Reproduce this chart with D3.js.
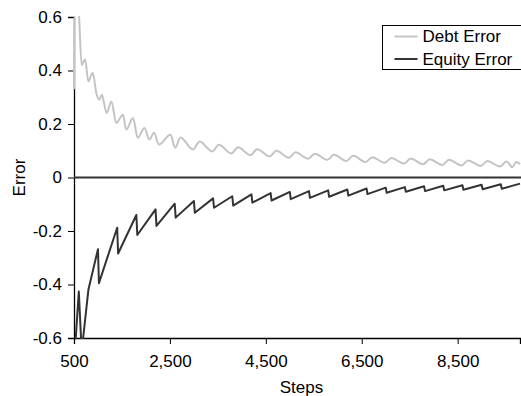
<!DOCTYPE html>
<html>
<head>
<meta charset="utf-8">
<script src="https://cdn.jsdelivr.net/npm/d3@7"></script>
<style>
  body { margin: 0; background: #fff; }
  svg text { font-family: Arial, "Liberation Sans", sans-serif; fill: #000; }
</style>
</head>
<body>
<div id="chart"></div>
<script>
// series values (step, error)
const debtSteps = [500, 510, 583, 660, 730, 800, 890, 970, 1030, 1080, 1180, 1280, 1380, 1520, 1590, 1730, 1830, 1970, 2070, 2170, 2270, 2510, 2610,
  2720, 2980, 3120, 3380, 3520, 3780, 3920, 4180, 4320, 4580, 4720, 4980, 5120, 5380, 5520, 5780, 5920, 6180, 6320, 6580, 6720, 6980, 7120,
  7380, 7520, 7780, 7920, 8180, 8320, 8580, 8720, 8980, 9120, 9380, 9520, 9640, 9720, 9800];
const debtValues = [0.33, 0.66, 0.66, 0.42, 0.442, 0.359, 0.392, 0.312, 0.291, 0.309, 0.241, 0.284, 0.204, 0.235, 0.179, 0.222, 0.148, 0.185, 0.142, 0.167, 0.123, 0.160, 0.111,
  0.150, 0.105, 0.135, 0.097, 0.122, 0.090, 0.113, 0.084, 0.106, 0.079, 0.100, 0.074, 0.094, 0.070, 0.089, 0.066, 0.085, 0.062, 0.081, 0.058, 0.076, 0.055, 0.073,
  0.052, 0.071, 0.050, 0.068, 0.047, 0.066, 0.045, 0.064, 0.043, 0.062, 0.041, 0.060, 0.038, 0.058, 0.050];

const equitySteps = [500, 600, 660, 800, 1000, 1020, 1400, 1420, 1800, 1820, 2200, 2220, 2600, 2620, 3000, 3020, 3400, 3420, 3800, 3820,
  4200, 4220, 4600, 4620, 5000, 5020, 5400, 5420, 5800, 5820, 6200, 6220, 6600, 6620, 7000, 7020, 7400, 7420, 7800, 7820,
  8200, 8220, 8600, 8620, 9000, 9020, 9400, 9420, 9800];
const equityValues = [-0.70, -0.426, -0.65, -0.42, -0.268, -0.395, -0.188, -0.284, -0.140, -0.215, -0.119, -0.181, -0.098, -0.150, -0.088, -0.132, -0.078, -0.113, -0.070, -0.105,
  -0.063, -0.094, -0.058, -0.086, -0.054, -0.081, -0.051, -0.076, -0.048, -0.072, -0.045, -0.068, -0.041, -0.062, -0.038, -0.057, -0.036, -0.053, -0.033, -0.051,
  -0.031, -0.048, -0.029, -0.046, -0.027, -0.044, -0.025, -0.042, -0.023];

const xTicks = [500, 2500, 4500, 6500, 8500];
const yTicks = [-0.6, -0.4, -0.2, 0, 0.2, 0.4, 0.6];
const seriesNames = ["Debt Error", "Equity Error"];
const seriesColors = ["#c4c4c4", "#333333"];

const W = 521, H = 396;
const margin = { top: 17, right: 0, bottom: 58, left: 74 };
const width = W - margin.left - margin.right;
const height = H - margin.top - margin.bottom;

const svg = d3.select("#chart").append("svg")
  .attr("width", W)
  .attr("height", H);

const g = svg.append("g")
  .attr("transform", `translate(${margin.left},${margin.top})`);

const x = d3.scaleLinear().domain([500, 9800]).range([0, width - 1]);
const y = d3.scaleLinear().domain([-0.6, 0.6]).range([height, 0]);

// Axes
const xAxis = g.append("g")
  .attr("transform", `translate(0,${height})`)
  .call(d3.axisBottom(x).tickValues(xTicks).tickFormat(d3.format(",")).tickSizeOuter(0).tickSize(6).tickPadding(11));

const yAxis = g.append("g")
  .call(d3.axisLeft(y).tickValues(yTicks)
    .tickFormat(d => d === 0 ? "0" : d3.format(".1f")(d).replace("\u2212", "-"))
    .tickSizeOuter(0).tickSize(6).tickPadding(6));

[xAxis, yAxis].forEach(a => {
  a.select(".domain").attr("stroke", "#000").attr("stroke-width", 1.3);
  a.selectAll(".tick line").attr("stroke", "#000");
  a.selectAll("text").style("font-size", "17px").attr("fill", "#000");
});

// zero line
g.append("line")
  .attr("x1", 0).attr("x2", width)
  .attr("y1", y(0)).attr("y2", y(0))
  .attr("stroke", "#333")
  .attr("stroke-width", 1.8);

// Axis titles
g.append("text")
  .attr("x", width / 2 + 4)
  .attr("y", height + 55)
  .attr("text-anchor", "middle")
  .style("font-size", "17px")
  .text("Steps");

g.append("text")
  .attr("transform", `translate(${-49},${y(0)}) rotate(-90)`)
  .attr("text-anchor", "middle")
  .style("font-size", "17px")
  .text("Error");

// Lines
g.append("clipPath").attr("id", "plot-clip")
  .append("rect")
  .attr("x", -2).attr("y", -1)
  .attr("width", width + 4).attr("height", height + 2);

const debtLine = d3.line()
  .x(d => x(d[0]))
  .y(d => y(d[1]))
  .curve(d3.curveMonotoneX);

const equityLine = d3.line()
  .x(d => x(d[0]))
  .y(d => y(d[1]));

const debtData = debtSteps.map((s, i) => [s, debtValues[i]]);
const equityData = equitySteps.map((s, i) => [s, equityValues[i]]);

const lines = g.append("g").attr("clip-path", "url(#plot-clip)");

lines.append("path")
  .datum(debtData)
  .attr("fill", "none")
  .attr("stroke", seriesColors[0])
  .attr("stroke-width", 2)
  .attr("stroke-linejoin", "round")
  .attr("d", debtLine);

lines.append("path")
  .datum(equityData)
  .attr("fill", "none")
  .attr("stroke", seriesColors[1])
  .attr("stroke-width", 2)
  .attr("stroke-linejoin", "round")
  .attr("d", equityLine);

// Legend
const legend = svg.append("g").attr("transform", "translate(382.5,25.5)");
legend.append("rect")
  .attr("width", 140).attr("height", 44)
  .attr("fill", "#fff")
  .attr("stroke", "#000")
  .attr("stroke-width", 1);

seriesNames.forEach((name, i) => {
  const row = legend.append("g").attr("transform", `translate(0,${11 + i * 22.5})`);
  row.append("line")
    .attr("x1", 12).attr("x2", 35)
    .attr("stroke", seriesColors[i])
    .attr("stroke-width", 2);
  row.append("text")
    .attr("x", 40)
    .attr("dy", "0.35em")
    .style("font-size", "17px")
    .text(name);
});
</script>
</body>
</html>
